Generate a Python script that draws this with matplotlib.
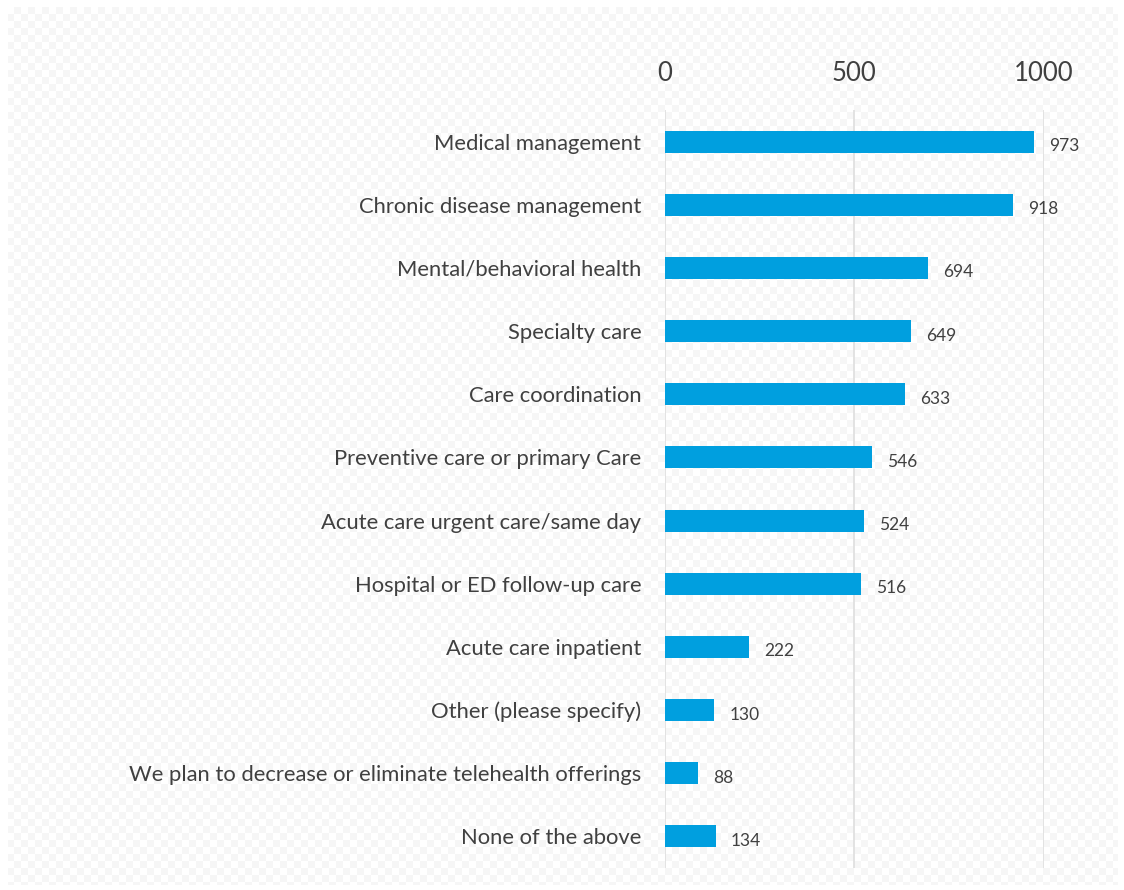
import numpy as np
import matplotlib
matplotlib.use("Agg")
import matplotlib.pyplot as plt

categories = [
    "Medical management",
    "Chronic disease management",
    "Mental/behavioral health",
    "Specialty care",
    "Care coordination",
    "Preventive care or primary Care",
    "Acute care urgent care/same day",
    "Hospital or ED follow-up care",
    "Acute care inpatient",
    "Other (please specify)",
    "We plan to decrease or eliminate telehealth offerings",
    "None of the above",
]
values = [973, 918, 694, 649, 633, 546, 524, 516, 222, 130, 88, 134]
x_ticks = [0, 500, 1000]

plt.rcParams["font.family"] = ["Lato", "DejaVu Sans"]
text_color = "#404040"
bar_color = "#009fdf"

fig = plt.figure(figsize=(11.24, 8.90), dpi=100)

# faint checkered backdrop inside a thin white margin
W, H = 1124, 890
cell = 7
yy, xx = np.mgrid[0:H, 0:W]
checker = ((xx // cell + yy // cell) % 2).astype(float)
bg = np.where(checker == 1, 0.968, 1.0)
bg[:7, :] = 1.0
bg[-5:, :] = 1.0
bg[:, :8] = 1.0
bg[:, -6:] = 1.0
fig.figimage(np.dstack([bg, bg, bg]), xo=0, yo=0, origin="upper", zorder=-10)

ax = fig.add_axes([0.5916, 0.0247, 0.9288 - 0.5916, 0.8764 - 0.0247])
ax.set_zorder(5)
ax.patch.set_alpha(0)

y = np.arange(len(categories))
ax.barh(y, values, height=0.35, color=bar_color, zorder=3)
for yi, v in zip(y, values):
    ax.text(v + 40, yi + 0.07, f"{v}", va="center", ha="left",
            fontsize=12.5, color=text_color)

ax.set_xlim(0, 1000)
ax.set_ylim(len(categories) - 0.5, -0.5)
ax.set_xticks(x_ticks)
ax.xaxis.tick_top()
ax.tick_params(axis="x", length=0, pad=17, labelsize=18.5, labelcolor=text_color)
ax.set_yticks(y)
ax.set_yticklabels(categories)
ax.tick_params(axis="y", length=0, pad=17, labelsize=15.8, labelcolor=text_color)
ax.grid(axis="x", color="#e0e0e0", linewidth=1.3, zorder=0)
for s in ax.spines.values():
    s.set_visible(False)

fig.savefig("out.png", dpi=100)
